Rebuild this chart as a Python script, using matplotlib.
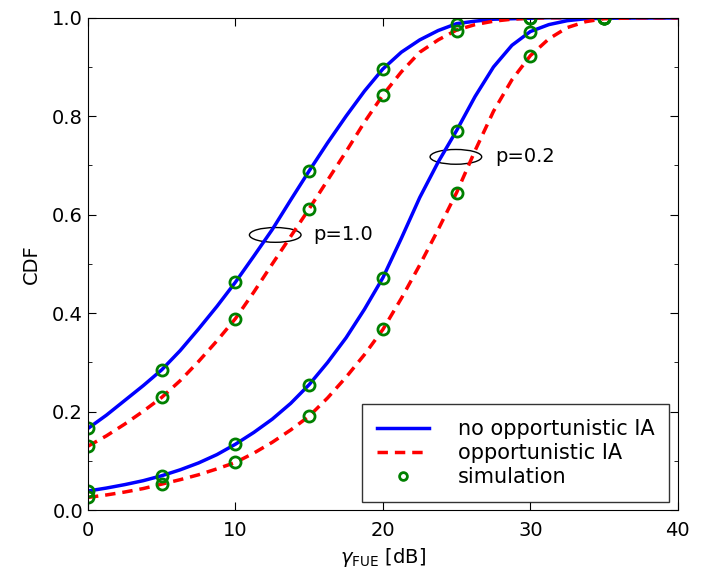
import numpy as np
import matplotlib
matplotlib.use("Agg")
import matplotlib.pyplot as plt
from matplotlib.patches import Ellipse
from matplotlib.ticker import MultipleLocator, FormatStrFormatter

# analytical curves, every 1.25 dB
x_curve = [0, 1.25, 2.5, 3.75, 5, 6.25, 7.5, 8.75, 10, 11.25, 12.5, 13.75, 15, 16.25, 17.5,
           18.75, 20, 21.25, 22.5, 23.75, 25, 26.25, 27.5, 28.75, 30, 31.25, 32.5, 33.75, 35,
           37.5, 40]
p10_no_ia = [0.166, 0.193, 0.223, 0.253, 0.285, 0.324, 0.368, 0.414, 0.463, 0.516, 0.570, 0.630,
             0.689, 0.746, 0.800, 0.851, 0.896, 0.930, 0.955, 0.974, 0.988, 0.993, 0.997, 0.998,
             0.999, 1.0, 1.0, 1.0, 1.0, 1.0, 1.0]
p10_ia = [0.130, 0.151, 0.175, 0.201, 0.229, 0.263, 0.302, 0.344, 0.389, 0.443, 0.500, 0.556,
          0.612, 0.670, 0.728, 0.788, 0.843, 0.890, 0.930, 0.955, 0.975, 0.986, 0.993, 0.997,
          0.999, 1.0, 1.0, 1.0, 1.0, 1.0, 1.0]
p02_no_ia = [0.039, 0.045, 0.052, 0.060, 0.070, 0.082, 0.096, 0.113, 0.134, 0.158, 0.185, 0.217,
             0.255, 0.300, 0.350, 0.408, 0.472, 0.552, 0.635, 0.707, 0.771, 0.840, 0.900, 0.944,
             0.972, 0.986, 0.994, 0.998, 0.999, 1.0, 1.0]
p02_ia = [0.026, 0.031, 0.037, 0.044, 0.053, 0.062, 0.072, 0.084, 0.097, 0.116, 0.138, 0.163,
          0.191, 0.228, 0.270, 0.316, 0.367, 0.430, 0.498, 0.570, 0.645, 0.730, 0.810, 0.874,
          0.923, 0.957, 0.980, 0.992, 0.998, 1.0, 1.0]

# simulation points
x_sim = [0, 5, 10, 15, 20, 25, 30, 35]
sim_p10_no_ia = [0.166, 0.285, 0.463, 0.689, 0.896, 0.988, 1.0, 1.0]
sim_p10_ia = [0.130, 0.229, 0.389, 0.612, 0.843, 0.974, 0.999, 1.0]
sim_p02_no_ia = [0.039, 0.070, 0.134, 0.255, 0.472, 0.771, 0.972, 0.999]
sim_p02_ia = [0.027, 0.053, 0.097, 0.191, 0.367, 0.645, 0.923, 1.0]

plt.rcParams['font.family'] = ['DejaVu Sans']
fig = plt.figure(figsize=(7.15, 5.72), dpi=100)
ax = fig.add_axes([0.123, 0.108, 0.825, 0.861])

lw = 2.5
ax.plot(x_curve, p10_no_ia, '-', color='blue', lw=lw, label='no opportunistic IA')
ax.plot(x_curve, p10_ia, '--', color='red', lw=lw, dashes=(3, 2), label='opportunistic IA')
ax.plot(x_curve, p02_no_ia, '-', color='blue', lw=lw)
ax.plot(x_curve, p02_ia, '--', color='red', lw=lw, dashes=(3, 2))

mk = dict(ls='none', marker='o', ms=8, mfc='none', mec='green', mew=2)
ax.plot(x_sim, sim_p10_no_ia, label='simulation', **mk)
ax.plot(x_sim, sim_p10_ia, **mk)
ax.plot(x_sim, sim_p02_no_ia, **mk)
ax.plot(x_sim, sim_p02_ia, **mk)

ax.add_patch(Ellipse((12.7, 0.559), 3.5, 0.03, fill=False, ec='black', lw=1))
ax.add_patch(Ellipse((24.95, 0.7175), 3.5, 0.03, fill=False, ec='black', lw=1))
ax.text(15.3, 0.559, 'p=1.0', fontsize=14, va='center', ha='left')
ax.text(27.6, 0.7175, 'p=0.2', fontsize=14, va='center', ha='left')

ax.set_xlim(0, 40)
ax.set_ylim(0, 1)
ax.xaxis.set_major_locator(MultipleLocator(10))
ax.yaxis.set_major_locator(MultipleLocator(0.2))
ax.yaxis.set_minor_locator(MultipleLocator(0.1))
ax.yaxis.set_major_formatter(FormatStrFormatter('%.1f'))
ax.tick_params(which='both', direction='in', top=True, right=True, labelsize=14)
ax.tick_params(which='major', length=6)
ax.tick_params(which='minor', length=3)
ax.tick_params(axis='x', pad=8)

ax.set_xlabel(r'$\gamma_{\rm FUE}$ [dB]', fontsize=14)
ax.set_ylabel('CDF', fontsize=14, labelpad=8)

leg = ax.legend(loc='lower right', numpoints=1, fontsize=15, fancybox=False,
                handlelength=2.5, handletextpad=1.4, borderpad=0.7,
                borderaxespad=0.4, labelspacing=0.2, markerscale=0.7)
leg.get_frame().set_edgecolor('black')
leg.get_frame().set_linewidth(1)

fig.savefig('out.png', dpi=100)
